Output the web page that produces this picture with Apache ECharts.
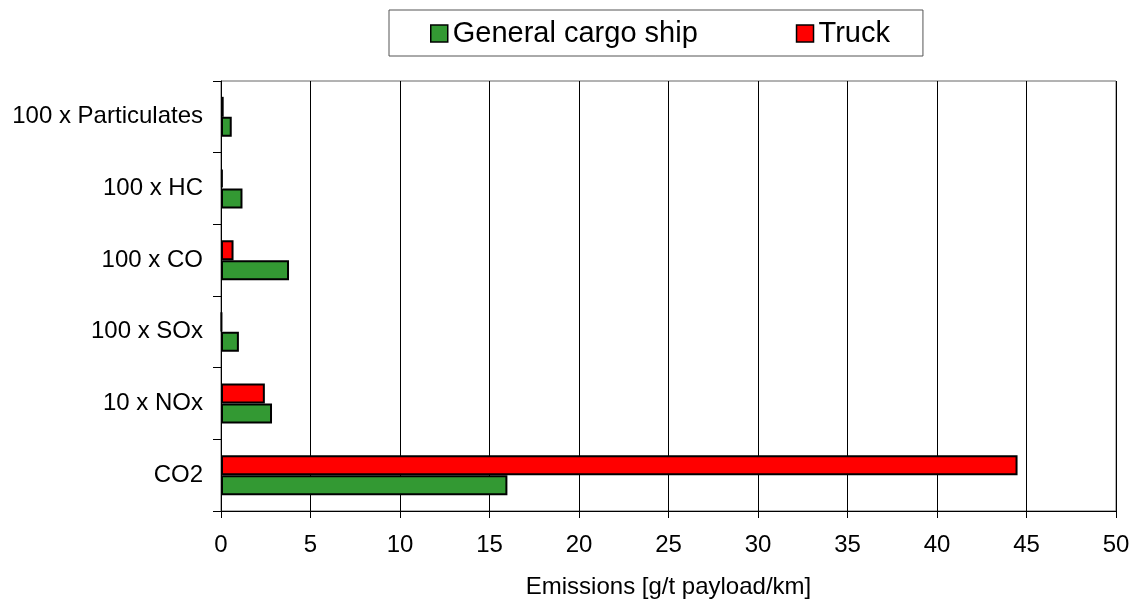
<!DOCTYPE html>
<html>
<head>
<meta charset="utf-8">
<script src="https://cdn.jsdelivr.net/npm/echarts@6/dist/echarts.min.js"></script>
<style>
  html, body { margin: 0; padding: 0; background: #fff; }
  #main { width: 1136px; height: 604px; }
</style>
</head>
<body>
<div id="main"></div>
<script>
// categories, bottom to top
var categories = ['CO2', '10 x NOx', '100 x SOx', '100 x CO', '100 x HC', '100 x Particulates'];
var shipValues = [16.0, 2.85, 1.0, 3.8, 1.2, 0.6];
var truckValues = [44.5, 2.45, 0.05, 0.7, 0.1, 0.15];
var xTicks = [0, 5, 10, 15, 20, 25, 30, 35, 40, 45, 50];

var chart = echarts.init(document.getElementById('main'));
var font = 'Liberation Sans, Arial, sans-serif';

var option = {
    animation: false,
    backgroundColor: '#fff',
    textStyle: { fontFamily: font },
    legend: {
        left: 389,
        top: 10,
        padding: [9, 33, 8, 41],
        borderColor: '#555',
        borderWidth: 1,
        itemWidth: 17,
        itemHeight: 17,
        itemGap: 98,
        icon: 'rect',
        itemStyle: { borderColor: '#000', borderWidth: 1.5 },
        textStyle: { fontSize: 29, color: '#000', fontFamily: font },
        data: ['General cargo ship', 'Truck']
    },
    grid: {
        left: 221,
        right: 20,
        top: 81,
        bottom: 93,
        show: true,
        borderColor: '#666',
        borderWidth: 1
    },
    xAxis: {
        type: 'value',
        min: xTicks[0],
        max: xTicks[xTicks.length - 1],
        interval: 5,
        name: 'Emissions [g/t payload/km]',
        nameLocation: 'middle',
        nameGap: 64,
        nameTextStyle: { fontSize: 24, color: '#000', fontFamily: font },
        axisLine: { show: true, lineStyle: { color: '#000', width: 1 } },
        axisTick: { show: true, inside: false, length: 7, lineStyle: { color: '#000' } },
        axisLabel: { fontSize: 24, color: '#000', margin: 22 },
        splitLine: { show: true, lineStyle: { color: '#000', width: 1 } }
    },
    yAxis: {
        type: 'category',
        data: categories,
        axisLine: { show: true, lineStyle: { color: '#000', width: 1 } },
        axisTick: { show: true, inside: false, length: 8, alignWithLabel: false, lineStyle: { color: '#000' } },
        axisLabel: { fontSize: 24, color: '#000', margin: 18 },
        splitLine: { show: false }
    },
    // truck listed first so it sits above the ship bar in each category
    series: [
        {
            name: 'Truck',
            type: 'bar',
            data: truckValues,
            barWidth: 20,
            barGap: '0%',
            itemStyle: { color: '#ff0000', borderColor: '#000', borderWidth: 2 }
        },
        {
            name: 'General cargo ship',
            type: 'bar',
            data: shipValues,
            barWidth: 20,
            barGap: '0%',
            itemStyle: { color: '#339933', borderColor: '#000', borderWidth: 2 }
        }
    ]
};
chart.setOption(option);
</script>
</body>
</html>
